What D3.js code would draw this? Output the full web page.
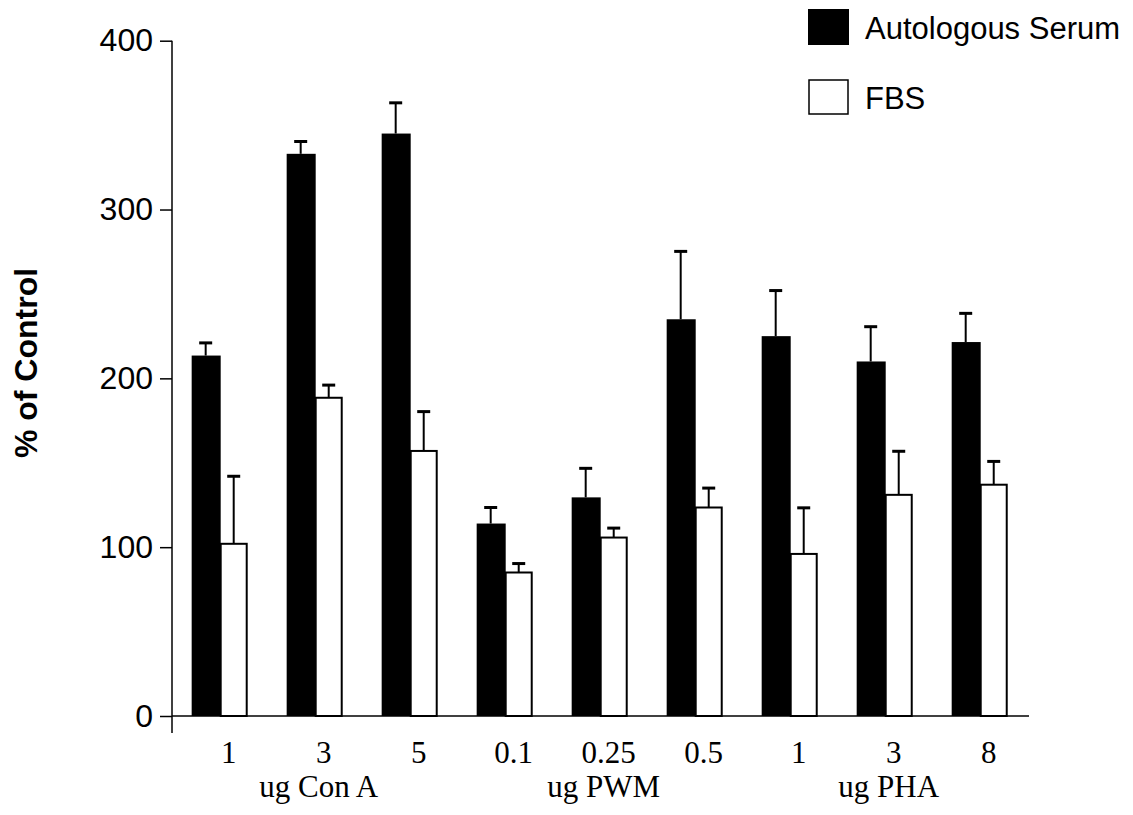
<!DOCTYPE html>
<html>
<head>
<meta charset="utf-8">
<script src="https://cdn.jsdelivr.net/npm/d3@7"></script>
<style>
  html, body { margin: 0; padding: 0; background: #fff; }
  svg { display: block; }
</style>
</head>
<body>
<svg id="chart" width="1133" height="815"></svg>
<script>
// ---- data ----
const doseLabels = ["1", "3", "5", "0.1", "0.25", "0.5", "1", "3", "8"];
const mitogens   = ["ug Con A", "ug Con A", "ug Con A", "ug PWM", "ug PWM", "ug PWM", "ug PHA", "ug PHA", "ug PHA"];
const groupLabels = ["ug Con A", "ug PWM", "ug PHA"];
const seriesNames = ["Autologous Serum", "FBS"];
const autologous    = [213.5, 333, 345, 114, 129.5, 235, 225, 210, 221.5];
const autologousErr = [7.5, 7.3, 18.2, 9.5, 17.2, 40.2, 27, 20.6, 17];
const fbs           = [102, 188.5, 157, 85, 105.7, 123.5, 96, 131, 137];
const fbsErr        = [40, 7.5, 23.3, 5.3, 5.6, 11.5, 27.3, 25.8, 13.8];
const yTicks = [0, 100, 200, 300, 400];

// ---- layout ----
const svg = d3.select("#chart");
const axisX = 172, yTop = 40.7, yBottom = 716;
const plotRight = 1029;

const cats = d3.range(doseLabels.length);
const x0 = d3.scaleBand().domain(cats).range([axisX, 1027.4])
  .paddingInner(0.41).paddingOuter(0.207);
const x1 = d3.scaleBand().domain(seriesNames).range([0, x0.bandwidth()]).padding(0);
const y = d3.scaleLinear().domain([0, 400]).range([yBottom, yTop]);

const data = cats.map(i => ({
  i,
  bars: [
    { s: seriesNames[0], v: autologous[i], e: autologousErr[i] },
    { s: seriesNames[1], v: fbs[i], e: fbsErr[i] }
  ]
}));

const g = svg.append("g");
const groups = g.selectAll("g.grp").data(data).enter().append("g")
  .attr("class", "grp")
  .attr("transform", d => `translate(${x0(d.i)},0)`);

// error bars (upper only)
groups.selectAll("g.err").data(d => d.bars).enter().append("g").attr("class", "err")
  .each(function(b) {
    const cx = x1(b.s) + x1.bandwidth() / 2;
    const sel = d3.select(this);
    sel.append("line").attr("x1", cx).attr("x2", cx)
      .attr("y1", y(b.v)).attr("y2", y(b.v + b.e))
      .attr("stroke", "#000").attr("stroke-width", 2);
    sel.append("line").attr("x1", cx - 6.5).attr("x2", cx + 6.5)
      .attr("y1", y(b.v + b.e)).attr("y2", y(b.v + b.e))
      .attr("stroke", "#000").attr("stroke-width", 3);
  });

groups.selectAll("rect").data(d => d.bars).enter().append("rect")
  .attr("x", b => b.s === seriesNames[0] ? x1(b.s) : x1(b.s) + 1)
  .attr("width", b => b.s === seriesNames[0] ? x1.bandwidth() + 1 : x1.bandwidth() - 2)
  .attr("y", b => y(b.v))
  .attr("height", b => yBottom - y(b.v))
  .attr("fill", b => b.s === seriesNames[0] ? "#000" : "#fff")
  .attr("stroke", b => b.s === seriesNames[0] ? "none" : "#000")
  .attr("stroke-width", 2);

// x baseline
svg.append("line").attr("x1", axisX).attr("x2", plotRight)
  .attr("y1", yBottom).attr("y2", yBottom)
  .attr("stroke", "#000").attr("stroke-width", 1.5);

// y axis
const yAxis = d3.axisLeft(y).tickValues(yTicks).tickSize(12).tickPadding(7).tickFormat(d3.format("d"));
const ya = svg.append("g").attr("transform", `translate(${axisX},0)`).call(yAxis);
ya.select(".domain").remove();
ya.selectAll(".tick line").attr("stroke", "#000").attr("stroke-width", 1.5);
ya.selectAll(".tick text")
  .attr("font-family", "'Liberation Sans', Arial, sans-serif")
  .attr("font-size", 32).attr("fill", "#000");
svg.append("line").attr("x1", axisX).attr("x2", axisX)
  .attr("y1", yTop).attr("y2", 733)
  .attr("stroke", "#000").attr("stroke-width", 1.5);

// y title
svg.append("text")
  .attr("transform", "translate(37,363) rotate(-90)")
  .attr("text-anchor", "middle")
  .attr("font-family", "'Liberation Sans', Arial, sans-serif")
  .attr("font-weight", "bold").attr("font-size", 32)
  .text("% of Control");

// x tick labels (dose)
const labelX = i => x0(i) + x0.bandwidth() / 2 + 9;
svg.selectAll("text.dose").data(cats).enter().append("text")
  .attr("class", "dose")
  .attr("x", labelX).attr("y", 763)
  .attr("text-anchor", "middle")
  .attr("font-family", "'Liberation Serif', 'Times New Roman', serif")
  .attr("font-size", 31)
  .text(i => doseLabels[i]);

// group labels under the middle dose of each mitogen
svg.selectAll("text.grplab").data(groupLabels).enter().append("text")
  .attr("class", "grplab")
  .attr("x", gl => {
    const idx = cats.filter(i => mitogens[i] === gl);
    const mid = idx[Math.floor(idx.length / 2)];
    return x0(mid) + x0.bandwidth() / 2 + 4;
  })
  .attr("y", 797)
  .attr("text-anchor", "middle")
  .attr("font-family", "'Liberation Serif', 'Times New Roman', serif")
  .attr("font-size", 31)
  .text(gl => gl);

// legend
const legend = svg.append("g").attr("transform", "translate(808,9)");
const li = legend.selectAll("g").data(seriesNames).enter().append("g")
  .attr("transform", (d, i) => `translate(0,${i * 70})`);
li.append("rect")
  .attr("x", (d, i) => i === 0 ? 0 : 1).attr("y", (d, i) => i === 0 ? 0 : 1)
  .attr("width", (d, i) => i === 0 ? 41 : 39).attr("height", (d, i) => i === 0 ? 36 : 34)
  .attr("fill", (d, i) => i === 0 ? "#000" : "#fff")
  .attr("stroke", (d, i) => i === 0 ? "none" : "#000")
  .attr("stroke-width", 1.5);
li.append("text")
  .attr("x", 57).attr("y", 30)
  .attr("font-family", "'Liberation Sans', Arial, sans-serif")
  .attr("font-size", 31)
  .text(d => d);
</script>
</body>
</html>
